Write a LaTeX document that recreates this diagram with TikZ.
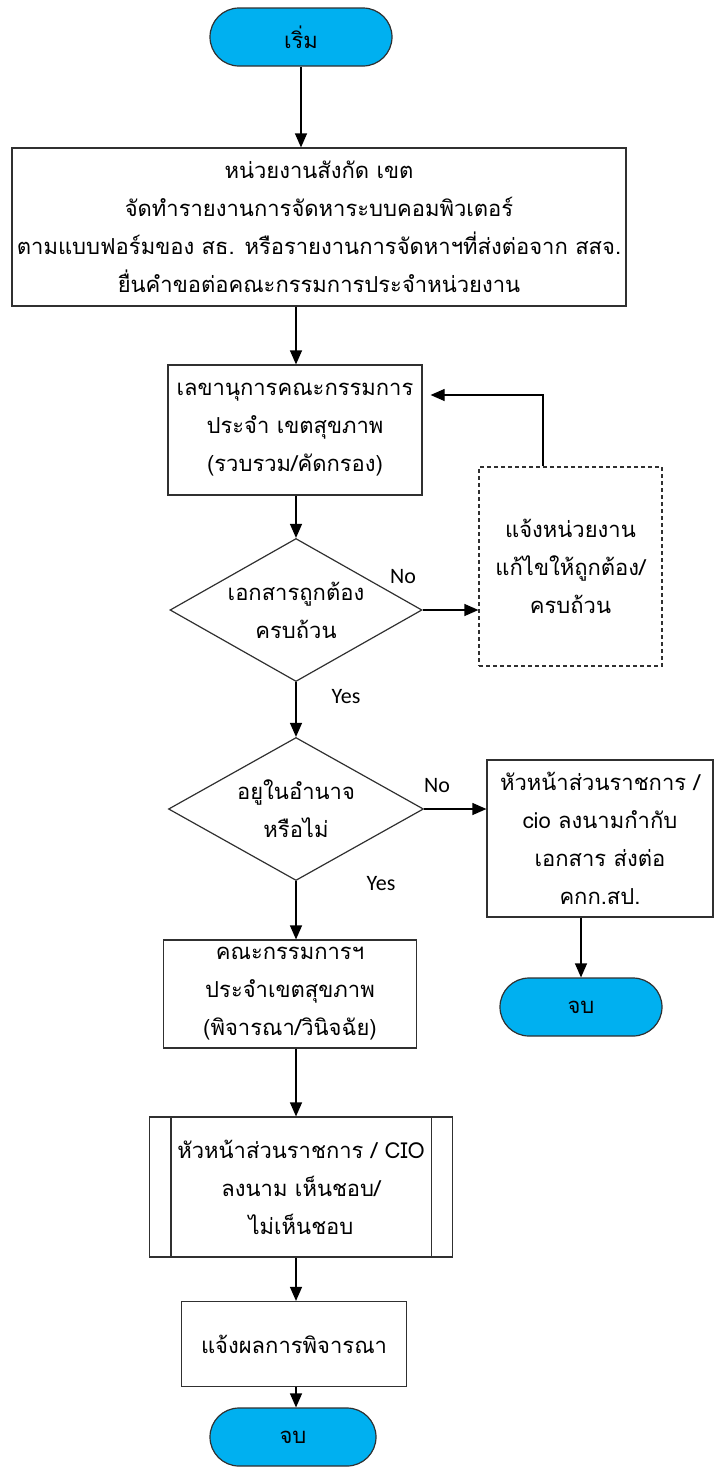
\documentclass[tikz,border=0pt]{standalone}
\usepackage{fontspec}
\usepackage{tikz}
\usetikzlibrary{arrows.meta,shapes.geometric}
\newfontfamily\thaifont[Script=Thai]{Loma}
\newfontfamily\latinfont{Carlito}
\definecolor{termblue}{HTML}{00B0F0}
\definecolor{linegray}{HTML}{303030}

\begin{document}
\begin{tikzpicture}[x=1pt,y=-1pt]
\useasboundingbox (0,0) rectangle (717,1483);
\begin{scope}[every node/.style={draw=linegray,line width=1.2pt,align=center,inner sep=0pt,
                  font=\thaifont\fontsize{22}{38}\selectfont},
              term/.style={fill=termblue,rounded corners=29pt,minimum height=58pt},
              proc/.style={rectangle},
              dec/.style={diamond,aspect=1.76}]
    \node[term,minimum width=182pt] (s0) at (301,37) {เริ่ม};
    \node[proc,minimum width=614pt,minimum height=158pt] (s1) at (319,227)
        {หน่วยงานสังกัด เขต\\จัดทำรายงานการจัดหาระบบคอมพิวเตอร์\\ตามแบบฟอร์มของ สธ. หรือรายงานการจัดหาฯที่ส่งต่อจาก สสจ.\\ยื่นคำขอต่อคณะกรรมการประจำหน่วยงาน};
    \node[proc,minimum width=254pt,minimum height=130pt] (s2) at (295,430)
        {เลขานุการคณะกรรมการ\\ประจำ เขตสุขภาพ\\(รวบรวม/คัดกรอง)};
    \node[dec,minimum width=252pt,minimum height=143pt] (s3) at (296,610)
        {เอกสารถูกต้อง\\ครบถ้วน};
    \node[proc,dashed,dash pattern=on 4pt off 3pt,minimum width=183pt,minimum height=199pt] (s4) at (570.5,566.5)
        {แจ้งหน่วยงาน\\แก้ไขให้ถูกต้อง/\\ครบถ้วน};
    \node[dec,minimum width=255pt,minimum height=143pt] (s5) at (296,809)
        {อยูในอำนาจ\\หรือไม่};
    \node[proc,minimum width=226pt,minimum height=157pt] (s6) at (600,838.5)
        {หัวหน้าส่วนราชการ /\\cio ลงนามกำกับ\\เอกสาร ส่งต่อ\\คกก.สป.};
    \node[term,minimum width=162pt] (s7) at (581,1007) {จบ};
    \node[proc,minimum width=253pt,minimum height=108pt] (s8) at (290,994)
        {คณะกรรมการฯ\\ประจำเขตสุขภาพ\\(พิจารณา/วินิจฉัย)};
    \node[proc,minimum width=303pt,minimum height=140pt] (s9) at (301,1187)
        {หัวหน้าส่วนราชการ / CIO\\ลงนาม เห็นชอบ/\\ไม่เห็นชอบ};
    \node[proc,minimum width=225pt,minimum height=85pt] (s10) at (294,1344)
        {แจ้งผลการพิจารณา};
    \node[term,minimum width=166pt] (s11) at (293,1437) {จบ};
\end{scope}

% inner bars of the predefined process box
\draw[draw=linegray,line width=1.2pt] ([xshift=22pt]s9.north west) -- ([xshift=22pt]s9.south west);
\draw[draw=linegray,line width=1.2pt] ([xshift=-22pt]s9.north east) -- ([xshift=-22pt]s9.south east);

\begin{scope}[every node/.style={font=\latinfont\fontsize{22}{24}\selectfont}]
    \node (l1) at (403,577) {No};
    \node (l2) at (346,697) {Yes};
    \node (l3) at (437,786) {No};
    \node (l4) at (381,884) {Yes};
\end{scope}

\begin{scope}[>={Stealth[black,length=14pt,width=12pt,inset=0pt]},
              every edge/.style={draw=black,line width=1.2pt}]
    \path [->] (s0.south) edge (s0.south |- s1.north);
    \path [->] (s3.north |- s1.south) edge (s3.north |- s2.north);
    \path [->] (s3.north |- s2.south) edge (s3.north);
    \path [->] (s3.east) edge (s3.east -| s4.west);
    \path [->] (s3.south) edge (s5.north);
    \path [->] (s5.east) edge (s5.east -| s6.west);
    \path [->] (s7.north |- s6.south) edge (s7.north);
    \path [->] (s5.south) edge (s5.south |- s8.north);
    \path [->] (s5.south |- s8.south) edge (s5.south |- s9.north);
    \path [->] (s5.south |- s9.south) edge (s5.south |- s10.north);
    \path [->] (s5.south |- s10.south) edge (s5.south |- s11.north);
    \coordinate (r1) at (543,395);
    \draw [->,line width=1.2pt] (s4.north -| r1) |- ([xshift=8pt]s2.east |- r1);
\end{scope}
\end{tikzpicture}
\end{document}
